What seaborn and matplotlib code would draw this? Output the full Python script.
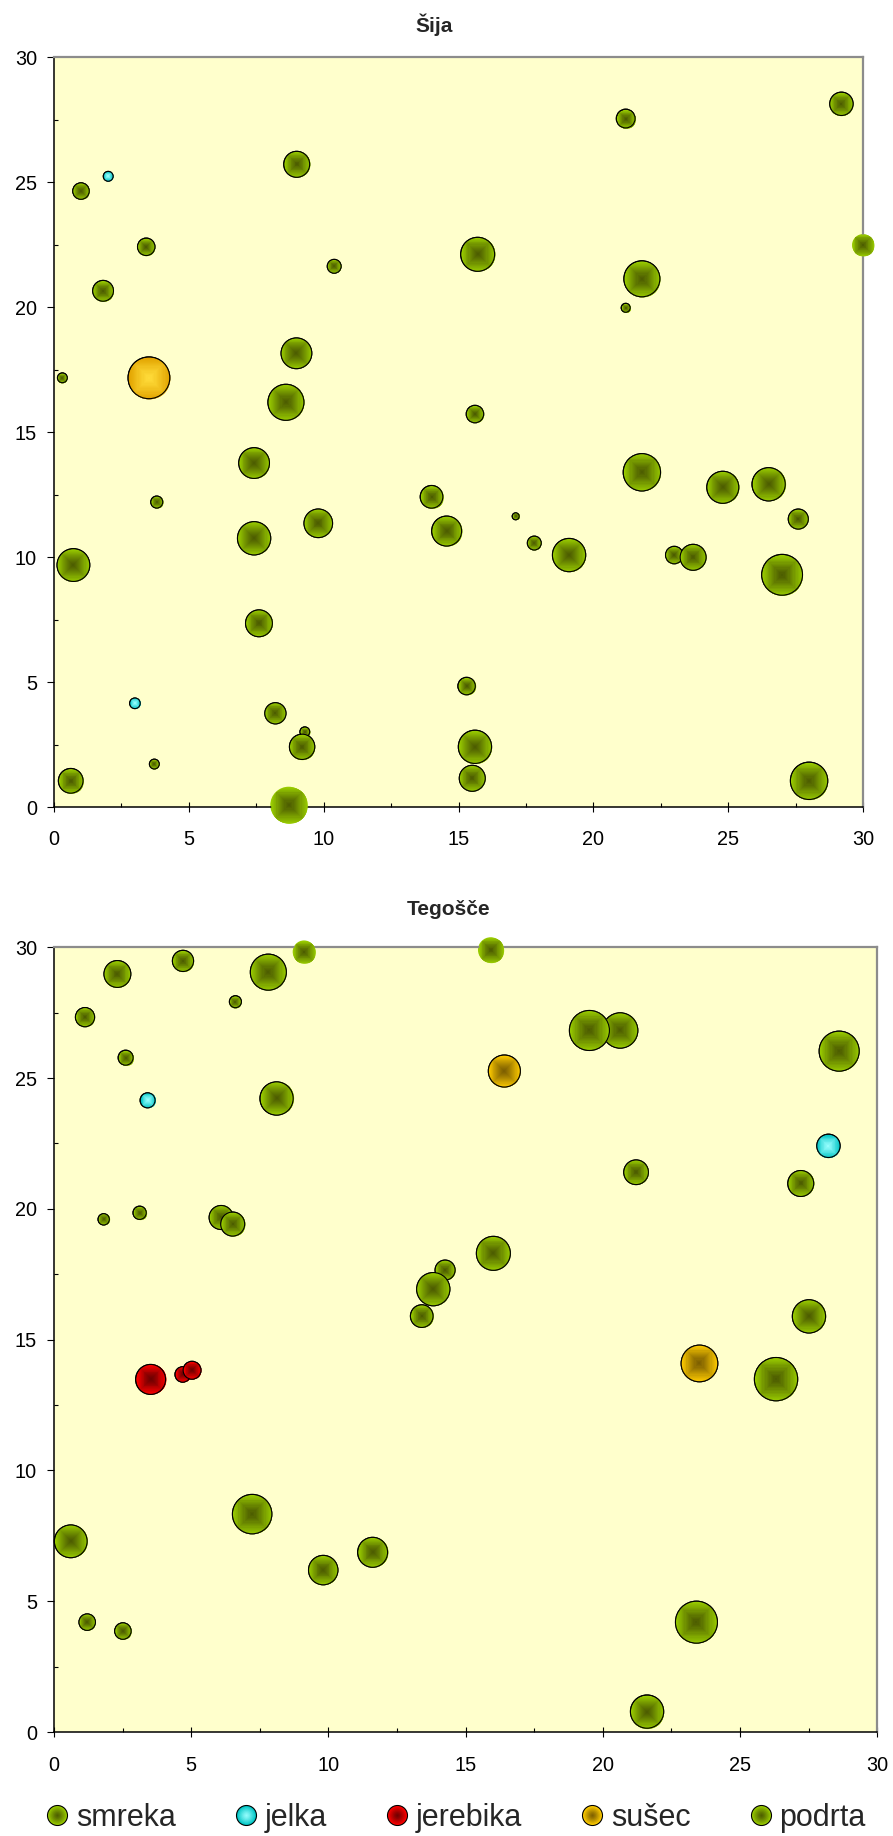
import numpy as np
import pandas as pd
import matplotlib
matplotlib.use("Agg")
import matplotlib.pyplot as plt
import seaborn as sns
from matplotlib.path import Path
from matplotlib.markers import MarkerStyle
from matplotlib.lines import Line2D
from matplotlib.ticker import MultipleLocator
from matplotlib.colors import to_rgb

# ---------------------------------------------------------------- data
vrste = ["smreka", "jelka", "jerebika", "sušec", "podrta"]

# Šija: species, position (m) and tree size
sija_vrsta = (["jelka"] * 2 + ["sušec"] + ["smreka"] * 43)
sija_x = [2.01, 3.00,
          3.52,
          1.00, 3.42, 1.82, 0.31, 9.00, 10.39, 8.99, 8.60, 21.20, 29.20,
          30.00, 15.71, 21.80, 21.20, 15.61, 7.42, 3.81, 14.00, 9.80, 7.42,
          14.56, 0.72, 7.60, 8.21, 9.30, 9.20, 3.72, 0.62, 8.70, 21.80,
          24.80, 26.50, 27.60, 17.12, 17.81, 19.10, 23.00, 23.70, 27.00,
          15.30, 15.61, 15.51, 28.00]
sija_y = [25.24, 4.16,
          17.18,
          24.65, 22.42, 20.66, 17.18, 25.72, 21.64, 18.16, 16.20, 27.55, 28.14,
          22.49, 22.12, 21.14, 19.98, 15.73, 13.77, 12.21, 12.42, 11.36, 10.76,
          11.05, 9.69, 7.36, 3.76, 3.02, 2.42, 1.73, 1.06, 0.09, 13.40,
          12.80, 12.92, 11.53, 11.64, 10.57, 10.09, 10.09, 10.00, 9.30,
          4.85, 2.42, 1.16, 1.06]
sija_premer = [6, 7,
               109,
               17, 19, 27, 6, 42, 12, 59, 81, 22, 34,
               30, 72, 81, 5, 19, 59, 9, 32, 51, 69,
               56, 67, 45, 28, 6, 40, 6, 38, 84, 87,
               64, 69, 25, 3, 12, 69, 19, 42, 104,
               19, 69, 42, 87]

# Tegošče
teg_vrsta = (["jelka"] * 2 + ["jerebika"] * 3 + ["sušec"] * 2 + ["smreka"] * 32)
teg_x = [3.41, 28.22,
         3.52, 4.69, 5.03,
         16.41, 23.52,
         1.13, 2.31, 4.70, 6.61, 7.81, 9.11, 2.61, 8.11, 1.81, 3.12, 6.09,
         6.51, 13.82, 13.40, 14.25, 15.91, 19.51, 20.63, 28.61, 21.21, 27.21,
         16.01, 27.51, 0.61, 7.22, 1.21, 2.51, 9.81, 11.61, 26.31, 23.41,
         21.61]
teg_y = [24.15, 22.41,
         13.48, 13.67, 13.83,
         25.27, 14.09,
         27.33, 28.98, 29.48, 27.92, 29.05, 29.83, 25.78, 24.22, 19.60, 19.85,
         19.67, 19.42, 16.93, 15.90, 17.66, 29.90, 26.82, 26.82, 26.03, 21.40,
         20.97, 18.30, 15.89, 7.29, 8.33, 4.20, 3.86, 6.19, 6.87, 13.49, 4.20,
         0.78]
teg_premer = [14, 34,
              56, 15, 20,
              64, 84,
              23, 45, 28, 9, 81, 32, 14, 69, 8, 11, 36,
              36, 69, 32, 25, 40, 100, 78, 100, 38, 42,
              72, 69, 67, 97, 17, 17, 54, 56, 117, 110,
              69]

# fill shading of each species: (centre, rim)
senca = {
    "smreka": ("#4b5a00", "#99cc00"),
    "jelka": ("#9affff", "#00c4c4"),
    "jerebika": ("#6a0000", "#ff0000"),
    "sušec": ("#7a5c00", "#ffcc00"),
    "podrta": ("#4b5a00", "#99cc00"),
}
senca_sija = dict(senca, **{"sušec": ("#ffdc3a", "#e3a400")})

# ---------------------------------------------------------------- style
sns.set_style("ticks")
plt.rcParams["font.family"] = ["Liberation Sans", "DejaVu Sans"]

DPI = 100
fig = plt.figure(figsize=(8.93, 18.36), dpi=DPI)
W, H = 893, 1836

V_MAX = 120.0
S_PER_UNIT = (4 * 0.72) ** 2      # marker area (pt^2) per size unit
TICK_FS = 14.3


def ax_rect(left, right, top, bottom):
    return [left / W, 1 - bottom / H, (right - left) / W, (bottom - top) / H]


N_LEVELS = 16


def level_path(t, n=240):
    """Square of half-side t clipped by the unit bubble outline."""
    th = np.linspace(0, 2 * np.pi, n, endpoint=False)
    c, s = np.cos(th), np.sin(th)
    rho = np.minimum(t / np.maximum(np.abs(c), np.abs(s)), 1.0) * 0.5
    ring = np.column_stack([rho * c, rho * s])
    verts = np.vstack([[0.5, 0.0], ring, ring[:1]])
    codes = [Path.MOVETO, Path.MOVETO] + [Path.LINETO] * (n - 1) + [Path.CLOSEPOLY]
    return MarkerStyle(Path(verts, codes))


LEVELS = [(k / N_LEVELS) for k in range(N_LEVELS, 0, -1)]
LEVEL_MARKERS = [level_path(t) for t in LEVELS]


def mix(c0, c1, t, gamma=1.25):
    a, b = np.array(to_rgb(c0)), np.array(to_rgb(c1))
    return tuple(a + (b - a) * t ** gamma)


def panel(rect, title, title_xy, vrsta, x, y, premer, shading, xpad):
    ax = fig.add_axes(rect)
    df = pd.DataFrame({"vrsta": vrsta, "x": x, "y": y, "premer": premer})
    df = df.sort_values("premer", kind="stable").reset_index(drop=True)

    ax.set_xlim(0, 30)
    ax.set_ylim(0, 30)
    ax.set_facecolor("#ffffcc")

    sns.scatterplot(data=df, x="x", y="y", hue="vrsta", size="premer",
                    hue_order=vrste,
                    palette={k: v[1] for k, v in shading.items()},
                    sizes=(0, S_PER_UNIT * V_MAX), size_norm=(0, V_MAX),
                    edgecolor="black", linewidth=0.8, legend=False,
                    ax=ax, clip_on=False, zorder=2)
    coll = ax.collections[-1]
    offs = np.asarray(coll.get_offsets())
    sizes = np.asarray(coll.get_sizes())
    if sizes.size == 1:
        sizes = np.repeat(sizes, len(offs))

    # bubbles reaching past the plot frame are drawn without outline
    pix = ax.transData.transform(offs)
    rad = np.sqrt(sizes) / 2 * DPI / 72
    bb = ax.bbox
    over = ((pix[:, 0] - rad < bb.x0) | (pix[:, 0] + rad > bb.x1) |
            (pix[:, 1] - rad < bb.y0) | (pix[:, 1] + rad > bb.y1))
    coll.set_linewidths(np.where(over, 0.0, 0.8))

    # rectangular "from centre" shading inside every bubble
    for i, ((bx, by), s, sp) in enumerate(zip(offs, sizes, df["vrsta"])):
        c0, c1 = shading[sp]
        z = 3 + i
        for k, (t, mk) in enumerate(zip(LEVELS, LEVEL_MARKERS)):
            ax.scatter([bx], [by], s=[s], marker=mk, color=[mix(c0, c1, t)],
                       linewidths=0, clip_on=False, zorder=z + k / 100)
        if not over[i]:
            ax.scatter([bx], [by], s=[s], marker="o", facecolors="none",
                       edgecolors="black", linewidths=0.8, clip_on=False,
                       zorder=z + 0.5)

    ax.set_xlim(0, 30)
    ax.set_ylim(0, 30)
    ax.set_xlabel("")
    ax.set_ylabel("")
    ax.xaxis.set_major_locator(MultipleLocator(5))
    ax.yaxis.set_major_locator(MultipleLocator(5))
    ax.xaxis.set_minor_locator(MultipleLocator(2.5))
    ax.yaxis.set_minor_locator(MultipleLocator(2.5))

    for side in ("top", "right"):
        ax.spines[side].set_visible(True)
        ax.spines[side].set_color("#8c8c8c")
        ax.spines[side].set_linewidth(1.6)
    for side in ("left", "bottom"):
        ax.spines[side].set_color("black")
        ax.spines[side].set_linewidth(1.1)

    ax.tick_params(axis="x", which="major", direction="inout", length=7.2,
                   width=0.8, pad=xpad, labelsize=TICK_FS, colors="black",
                   top=False)
    ax.tick_params(axis="y", which="major", direction="out", length=4.8,
                   width=0.8, pad=7.4, labelsize=TICK_FS, colors="black",
                   right=False)
    ax.tick_params(which="minor", direction="in", length=3, width=0.8,
                   top=False, right=False, color="black")

    fig.text(title_xy[0] / W, 1 - title_xy[1] / H, title, ha="center",
             va="baseline", fontsize=15, fontweight="bold")
    return ax


panel(ax_rect(54, 863, 57.3, 807.3), "Šija", (434, 32),
      sija_vrsta, sija_x, sija_y, sija_premer, senca_sija, 12.4)
panel(ax_rect(54, 877.3, 947.3, 1732), "Tegošče", (449, 915),
      teg_vrsta, teg_x, teg_y, teg_premer, senca, 13.9)

# ---------------------------------------------------------------- legend
handles = []
for sp in vrste:
    c0, c1 = senca[sp]
    parts = [Line2D([], [], linestyle="none", marker="o", markersize=14.4,
                    markerfacecolor=c1, markeredgecolor="black",
                    markeredgewidth=0.8)]
    for t in np.linspace(0.85, 0.1, 7):
        parts.append(Line2D([], [], linestyle="none", marker="o",
                            markersize=14.4 * t, markerfacecolor=mix(c0, c1, t),
                            markeredgewidth=0))
    handles.append(tuple(parts))

fig.legend(handles, vrste, loc="center",
           bbox_to_anchor=(456 / W, 1 - 1818 / H), ncol=5, frameon=False,
           fontsize=22, handlelength=0.7, handleheight=0.7,
           handletextpad=0.27, columnspacing=1.94, borderpad=0,
           borderaxespad=0)

fig.savefig("out.png", dpi=DPI)
